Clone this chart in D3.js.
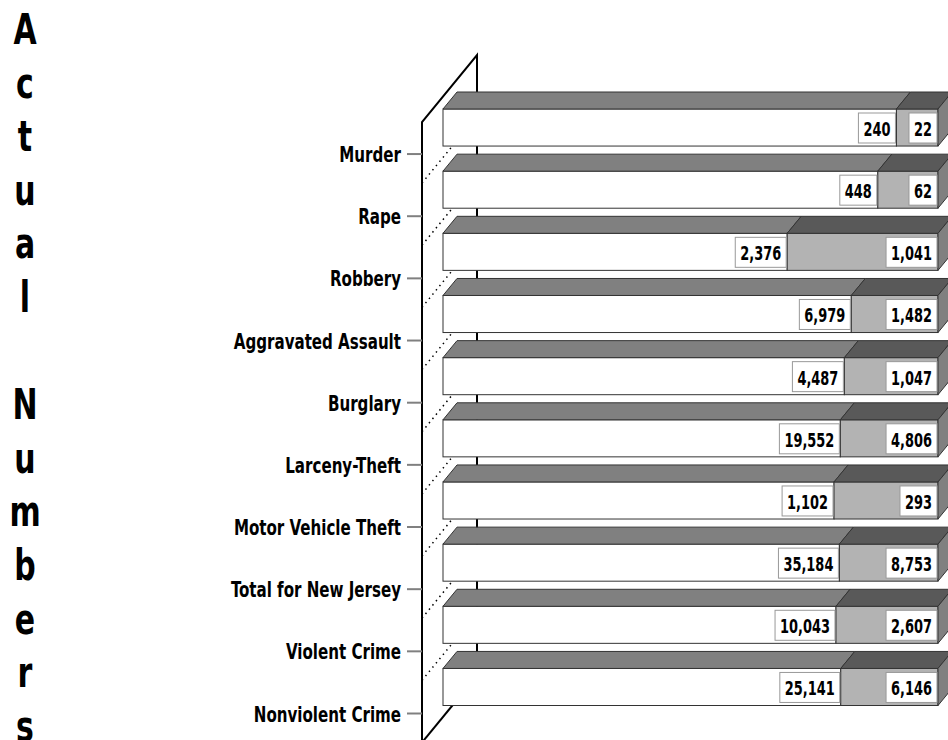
<!DOCTYPE html>
<html lang="en">
  <head>
    <meta charset="UTF-8" />
    <title>Actual Numbers</title>
    <script src="https://d3js.org/d3.v7.min.js"></script>
    <style>
      body { margin: 0; background: #fff; }
      svg { display: block; }
      .lbl {
        font-family: "DejaVu Sans Condensed", "DejaVu Sans", sans-serif;
        font-weight: bold;
      }
    </style>
  </head>
  <body>
    <svg id="chart" width="948" height="740"></svg>

    <script>
      // data
      const categories = [
        "Murder", "Rape", "Robbery", "Aggravated Assault", "Burglary",
        "Larceny-Theft", "Motor Vehicle Theft", "Total for New Jersey",
        "Violent Crime", "Nonviolent Crime",
      ];
      const firstValues = [240, 448, 2376, 6979, 4487, 19552, 1102, 35184, 10043, 25141];
      const secondValues = [22, 62, 1041, 1482, 1047, 4806, 293, 8753, 2607, 6146];
      const axisTitle = "Actual Numbers";

      const svg = d3.select("#chart");
      const fmt = d3.format(",");

      // 3D depth offsets
      const dx = 14, dy = -17;       // bar depth
      const wx = 55, wy = -67;       // wall depth
      const wallX = 422;

      const x = d3.scaleLinear().domain([0, 1]).range([443, 938]);
      const y = d3.scaleBand().domain(categories).range([109, 705.5]).paddingInner(0.404).paddingOuter(0);

      const rows = categories.map((c, i) => ({
        cat: c, a: firstValues[i], b: secondValues[i],
        share: firstValues[i] / (firstValues[i] + secondValues[i]),
      }));

      // narrow text: the original face is a heavy condensed one
      function narrowText(sel, tx, ty, sx, sy) {
        return sel.append("text")
          .attr("class", "lbl")
          .attr("transform", `translate(${tx},${ty}) scale(${sx},${sy || 1})`);
      }

      // axis title, one letter per line
      const titleG = svg.append("g");
      axisTitle.split("").forEach((ch, i) => {
        narrowText(titleG, 25, 44 + i * 53.6, 0.9, 1.15)
          .attr("text-anchor", "middle")
          .attr("font-size", 37)
          .text(ch);
      });

      // wall + floor lines
      const lastBottom = y(categories[categories.length - 1]) + y.bandwidth();
      const walls = svg.append("g").attr("stroke", "#000").attr("stroke-width", 2).attr("fill", "none");
      walls.append("path").attr("d", `M${wallX},745 L${wallX},122 L${wallX + wx},${122 + wy} L${wallX + wx},${lastBottom + 37 + wy}`);
      walls.append("line")
        .attr("x1", wallX).attr("y1", lastBottom + 37)
        .attr("x2", wallX + wx).attr("y2", lastBottom + 37 + wy);

      // dotted depth gridlines between categories
      svg.append("g").selectAll("line")
        .data(categories.slice(0, -1))
        .enter().append("line")
        .attr("x1", wallX).attr("y1", (d) => y(d) + y.bandwidth() + 37)
        .attr("x2", wallX + wx).attr("y2", (d) => y(d) + y.bandwidth() + 37 + wy)
        .attr("stroke", "#000").attr("stroke-width", 1.5).attr("stroke-dasharray", "1.5,4");

      // category ticks and labels
      const axis = svg.append("g");
      axis.selectAll("line").data(categories).enter().append("line")
        .attr("x1", 407).attr("x2", wallX)
        .attr("y1", (d) => y(d) + y.bandwidth() + 8)
        .attr("y2", (d) => y(d) + y.bandwidth() + 8)
        .attr("stroke", "#808080").attr("stroke-width", 2);
      categories.forEach((c) => {
        narrowText(axis, 401, y(c) + y.bandwidth() + 16, 0.78)
          .attr("text-anchor", "end")
          .attr("font-size", 21.5)
          .text(c);
      });

      // bars
      const face = (x0, x1, top) =>
        `M${x0},${top} L${x0 + dx},${top + dy} L${x1 + dx},${top + dy} L${x1},${top} Z`;

      const bars = svg.append("g").selectAll("g").data(rows).enter().append("g");

      bars.each(function (d) {
        const g = d3.select(this);
        const top = y(d.cat), h = y.bandwidth();
        const x0 = x(0), xm = x(d.share), x1 = x(1);

        g.append("rect").attr("x", x0).attr("y", top).attr("width", xm - x0).attr("height", h)
          .attr("fill", "#fff").attr("stroke", "#333");
        g.append("path").attr("d", face(x0, xm, top)).attr("fill", "#808080").attr("stroke", "#333");
        g.append("rect").attr("x", xm).attr("y", top).attr("width", x1 - xm).attr("height", h)
          .attr("fill", "#b3b3b3").attr("stroke", "#333");
        g.append("path").attr("d", face(xm, x1, top)).attr("fill", "#595959").attr("stroke", "#333");
        g.append("path")
          .attr("d", `M${x1},${top} L${x1 + dx},${top + dy} L${x1 + dx},${top + h + dy} L${x1},${top + h} Z`)
          .attr("fill", "#808080").attr("stroke", "#333");

        // value labels
        [[d.a, xm - 1], [d.b, x1 - 1]].forEach(([v, right]) => {
          const box = g.append("rect").attr("fill", "#fff").attr("stroke", "#999");
          const t = narrowText(g, right - 5, top + 27, 0.72)
            .attr("text-anchor", "end").attr("font-size", 20)
            .text(fmt(v));
          const w = t.node().getComputedTextLength() * 0.72;
          box.attr("x", right - w - 10).attr("y", top + 4).attr("width", w + 10).attr("height", 30);
        });
      });
    </script>
  </body>
</html>
